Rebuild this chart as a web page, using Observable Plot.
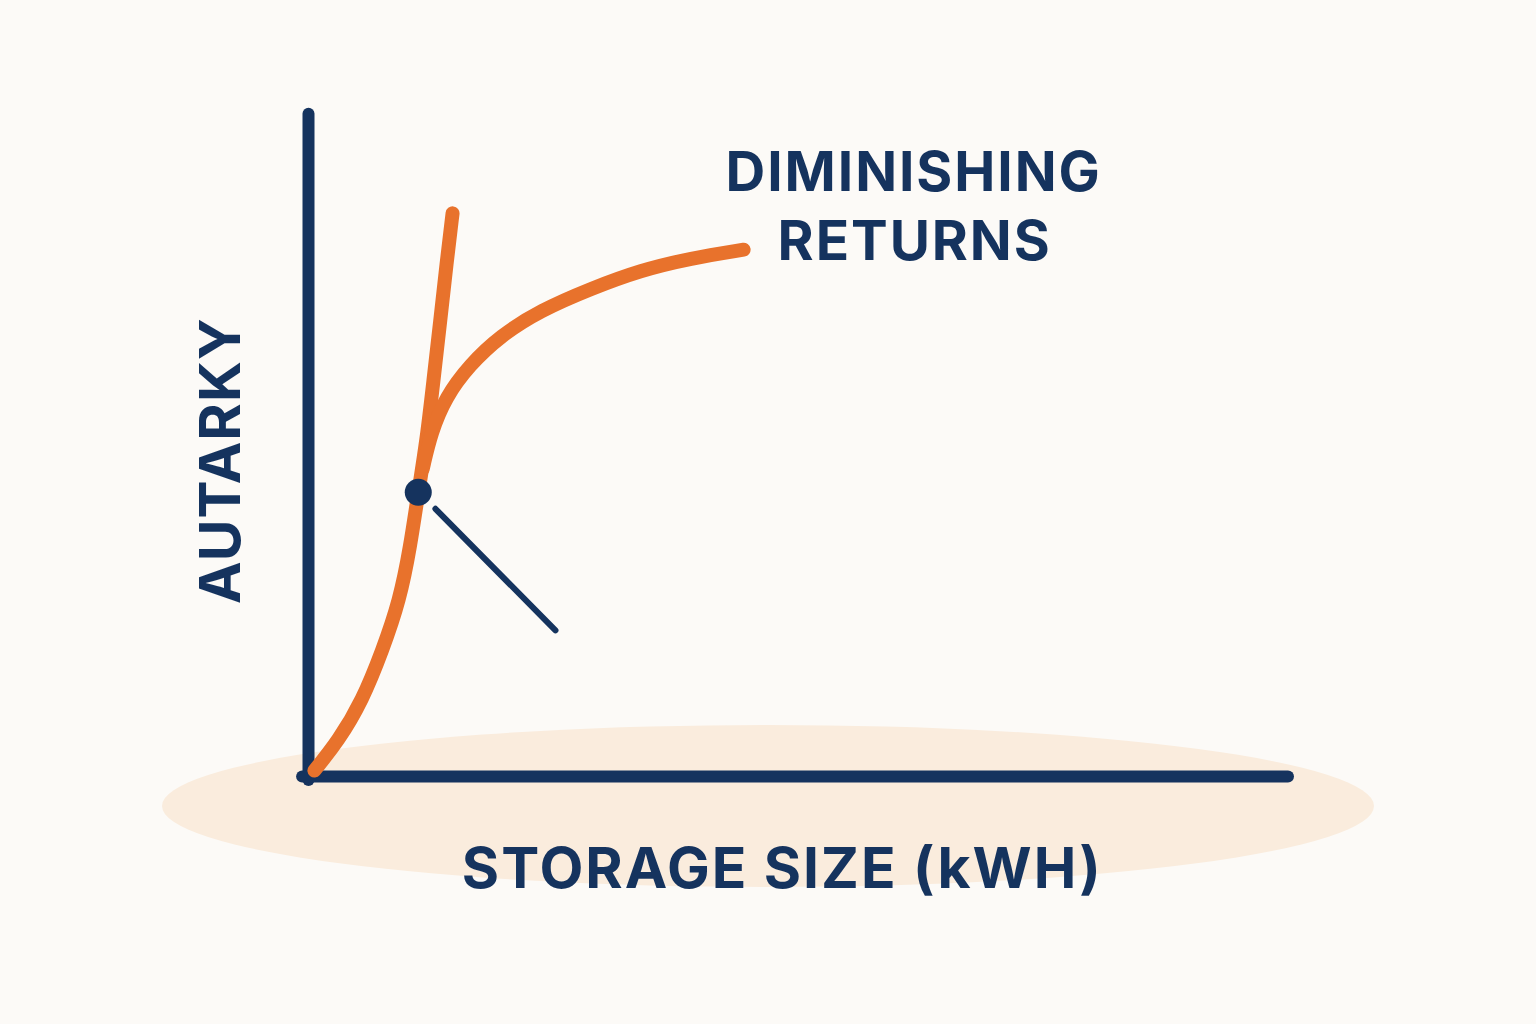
<!DOCTYPE html>
<html>
<head>
<meta charset="utf-8">
<script src="https://cdn.jsdelivr.net/npm/d3@7"></script>
<script src="https://cdn.jsdelivr.net/npm/@observablehq/plot@0.6"></script>
<style>
  html, body { margin: 0; padding: 0; background: #fcfaf7; }
  #wrap { position: relative; width: 1536px; height: 1024px; overflow: hidden; }
  #glow { position: absolute; left: 162px; top: 725px; width: 1212px; height: 162px; border-radius: 50%; background: #faecdd; }
  #chart { position: absolute; left: 0; top: 0; }
  #chart svg { background: transparent; overflow: visible; }
</style>
</head>
<body>
<div id="wrap"><div id="glow"></div><div id="chart"></div></div>
<script>
// Steep rising curve (storage size kWh, autarky %)
const steepX = [0.12, 0.61, 1.10, 1.51, 1.86, 2.08, 2.24, 2.41, 2.55, 2.69, 2.82, 2.94];
const steepY = [0.9, 5.4, 11.5, 19.1, 26.6, 34.9, 43.0, 50.8, 59.9, 69.0, 77.8, 85.2];
// Flattening curve (diminishing returns)
const flatX = [2.33, 2.50, 2.80, 3.28, 3.92, 4.73, 5.76, 6.78, 7.80, 8.88];
const flatY = [46.5, 52.0, 57.4, 62.2, 66.7, 70.5, 73.8, 76.6, 78.4, 79.7];
// Highlighted point and pointer
const pointX = [2.24];
const pointY = [43.0];
const pointerX = [2.59, 5.04];
const pointerY = [40.5, 22.1];
// Labels
const titleLines = ["DIMINISHING", "RETURNS"];
const xLabel = "STORAGE SIZE (kWH)";
const yLabel = "AUTARKY";
const xDomain = [0, 20];
const yDomain = [0, 100];

const navy = "#15335e";
const orange = "#e8722c";

const steep = steepX.map((x, i) => ({x, y: steepY[i]}));
const flat = flatX.map((x, i) => ({x, y: flatY[i]}));
const point = pointX.map((x, i) => ({x, y: pointY[i]}));
const pointer = pointerX.map((x, i) => ({x, y: pointerY[i]}));

const font = "Inter, 'DejaVu Sans', sans-serif";

const chart = Plot.plot({
  width: 1536,
  height: 1024,
  marginLeft: 308,
  marginRight: 248,
  marginTop: 115,
  marginBottom: 248,
  x: {domain: xDomain, axis: null},
  y: {domain: yDomain, axis: null},
  style: {background: "transparent"},
  marks: [
    Plot.ruleX([0], {y1: yDomain[0] - 0.6, y2: yDomain[1] + 0.2, stroke: navy, strokeWidth: 12, strokeLinecap: "round"}),
    Plot.ruleY([0], {x1: xDomain[0] - 0.12, x2: xDomain[1], stroke: navy, strokeWidth: 12, strokeLinecap: "round"}),
    Plot.line(steep, {x: "x", y: "y", stroke: orange, strokeWidth: 14, strokeLinecap: "round", curve: "basis"}),
    Plot.line(flat, {x: "x", y: "y", stroke: orange, strokeWidth: 14, strokeLinecap: "round", curve: "basis"}),
    Plot.line(pointer, {x: "x", y: "y", stroke: navy, strokeWidth: 6, strokeLinecap: "round"}),
    Plot.dot(point, {x: "x", y: "y", r: 13.5, fill: navy}),
    Plot.text([titleLines[0]], {x: 12.35, y: 91.2, text: d => d, fill: navy, fontSize: 55, fontWeight: 700, fontFamily: font}),
    Plot.text([titleLines[1]], {x: 12.37, y: 80.8, text: d => d, fill: navy, fontSize: 55, fontWeight: 700, fontFamily: font}),
    Plot.text([xLabel], {x: 9.67, y: -14.1, text: d => d, fill: navy, fontSize: 57, fontWeight: 700, fontFamily: font}),
    Plot.text([yLabel], {x: -1.78, y: 47.8, text: d => d, rotate: -90, fill: navy, fontSize: 57, fontWeight: 700, fontFamily: font})
  ]
});

d3.select(chart).selectAll("text").style("letter-spacing", "0.035em");
d3.select(chart).selectAll("text").filter(function () { return this.textContent === yLabel; }).style("letter-spacing", "0.02em");
document.getElementById("chart").appendChild(chart);
</script>
</body>
</html>
